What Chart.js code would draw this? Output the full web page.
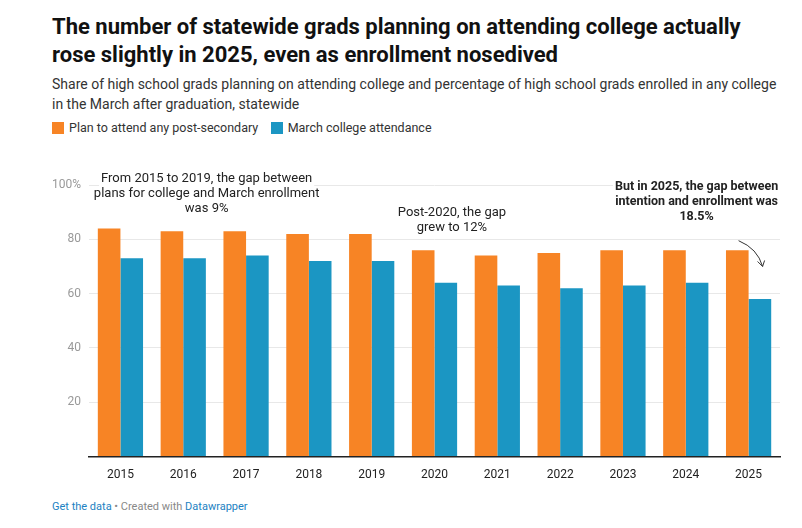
<!DOCTYPE html>
<html><head><meta charset="utf-8">
<script src="https://cdn.jsdelivr.net/npm/chart.js@4"></script>
<style>
body{margin:0;background:#fff;font-family:Roboto,sans-serif;color:#222;}
h1{position:absolute;left:52px;top:13px;margin:0;font-size:22px;line-height:28px;font-weight:700;width:720px;color:#111;}
.sub{position:absolute;left:52px;top:74px;font-size:14px;line-height:20px;color:#333;width:730px;}
.leg{position:absolute;left:52px;top:120px;font-size:12.5px;color:#333;}
.leg span.b{display:inline-block;width:12px;height:12px;vertical-align:-2px;margin-right:5px;}
.foot{position:absolute;left:52px;top:500px;font-size:11px;color:#888;}
.foot a{color:#1d82c2;text-decoration:none;}
#wrap{position:absolute;left:44px;top:165px;width:744px;height:320px;}
</style></head><body>
<h1>The number of statewide grads planning on attending college actually rose slightly in 2025, even as enrollment nosedived</h1>
<div class="sub">Share of high school grads planning on attending college and percentage of high school grads enrolled in any college in the March after graduation, statewide</div>
<div class="leg"><span class="b" style="background:#f78425"></span>Plan to attend any post-secondary &nbsp;&nbsp;&nbsp;<span class="b" style="background:#1b96c3"></span>March college attendance</div>
<div id="wrap"><canvas id="c"></canvas></div>
<div class="foot"><a>Get the data</a> • Created with <a>Datawrapper</a></div>
<script>
var years = ['2015','2016','2017','2018','2019','2020','2021','2022','2023','2024','2025'];
var planToAttend = [84, 83, 83, 82, 82, 76, 74, 75, 76, 76, 76];
var marchAttendance = [73, 73, 74, 72, 72, 64, 63, 62, 63, 64, 58];

var notes = {
  id: 'notes',
  afterDraw: function (chart) {
    var c = chart.ctx, x = chart.scales.x, y = chart.scales.y;
    c.save();
    c.textAlign = 'center';
    c.fillStyle = '#222';
    function block(lines, cx, top, bold) {
      c.font = (bold ? '700 12.5px' : '400 13px') + ' Roboto';
      lines.forEach(function (t, i) {
        var w = c.measureText(t).width;
        c.fillStyle = '#fff';
        c.fillRect(cx - w / 2 - 2, top + i * 15 - 11, w + 4, 15);
        c.fillStyle = '#222';
        c.fillText(t, cx, top + i * 15);
      });
    }
    var t = y.getPixelForValue(100);
    block(['From 2015 to 2019, the gap between', 'plans for college and March enrollment', 'was 9%'],
      (x.getPixelForValue(1) + x.getPixelForValue(2)) / 2 - 8, t - 3, false);
    block(['Post-2020, the gap', 'grew to 12%'], (x.getPixelForValue(5) + x.getPixelForValue(6)) / 2 - 14, t + 31, false);
    block(['But in 2025, the gap between', 'intention and enrollment was', '18.5%'],
      x.getPixelForValue(10) - 52, t + 5, true);
    var ax = x.getPixelForValue(10) + 12, ay = y.getPixelForValue(70);
    c.strokeStyle = '#333'; c.lineWidth = 1;
    c.beginPath();
    c.moveTo(ax - 22, y.getPixelForValue(79.5));
    c.quadraticCurveTo(ax - 3, ay - 18, ax + 2, ay);
    c.stroke();
    c.beginPath();
    c.moveTo(ax - 3, ay - 5); c.lineTo(ax + 2, ay); c.lineTo(ax + 4, ay - 6);
    c.stroke();
    c.restore();
  }
};

new Chart(document.getElementById('c'), {
  type: 'bar',
  data: {
    labels: years,
    datasets: [
      { label: 'Plan to attend any post-secondary', data: planToAttend, backgroundColor: '#f78425' },
      { label: 'March college attendance', data: marchAttendance, backgroundColor: '#1b96c3' }
    ]
  },
  options: {
    animation: false,
    maintainAspectRatio: false,
    layout: { padding: { top: 20, right: 8 } },
    categoryPercentage: 0.72,
    barPercentage: 1,
    plugins: { legend: { display: false }, tooltip: { enabled: false } },
    scales: {
      x: {
        grid: { display: false },
        border: { color: '#222', width: 1.5 },
        ticks: { color: '#222', font: { family: 'Roboto', size: 12 } }
      },
      y: {
        min: 0, max: 100,
        border: { display: false },
        grid: { color: '#e8e8e8', drawTicks: false },
        ticks: {
          stepSize: 20, padding: 8, color: '#999', font: { family: 'Roboto', size: 12 },
          callback: function (v) { return v === 0 ? '' : (v === 100 ? '100%' : v); }
        }
      }
    }
  },
  plugins: [notes]
});
</script>
</body></html>
